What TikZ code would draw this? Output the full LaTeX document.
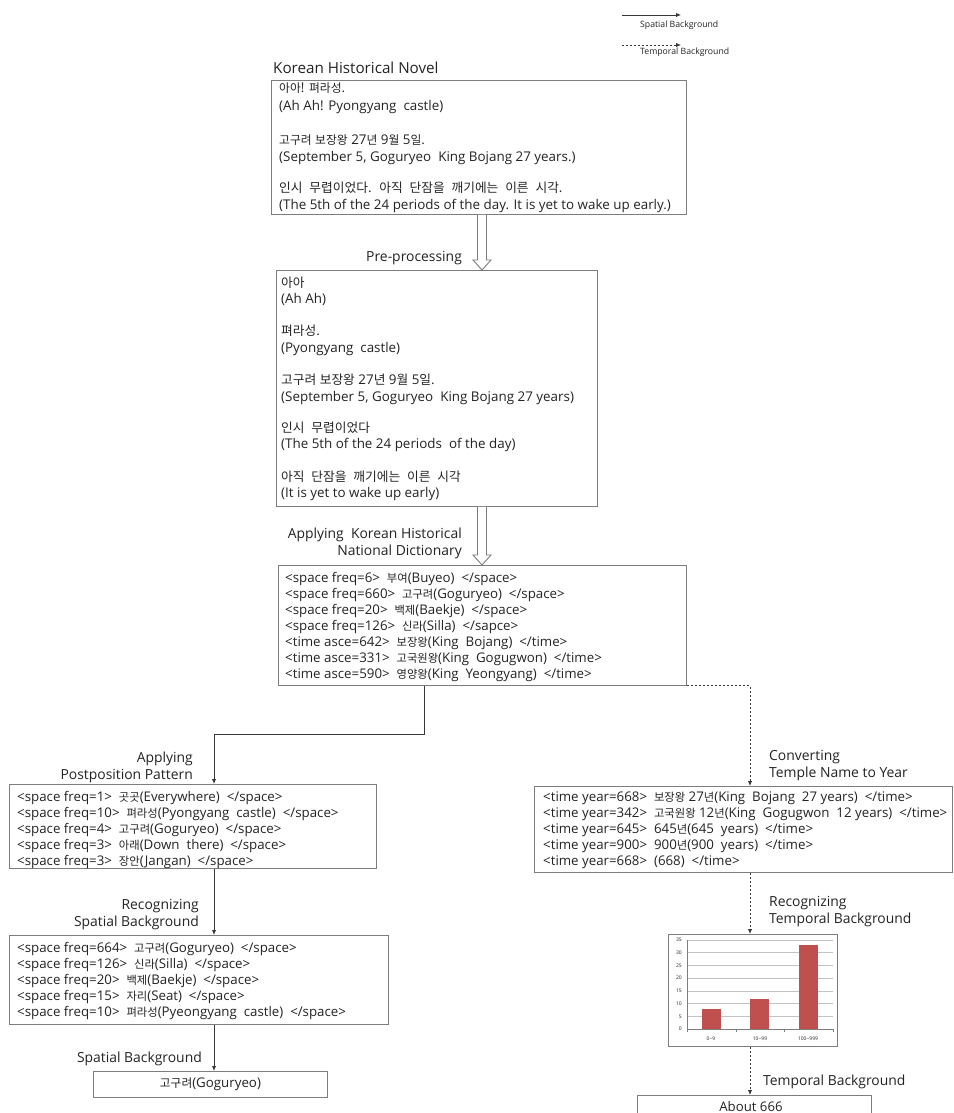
\documentclass[tikz,border=0pt]{standalone}
\usepackage{fontspec}
\setmainfont{Open Sans}
\newfontfamily\krfa[Scale=0.88,WordSpace=2]{Noto Sans CJK KR}
\newfontfamily\krfb[Scale=0.95,WordSpace=2.4]{Noto Sans CJK KR}
\newfontfamily\krfc[Scale=0.85]{Noto Sans CJK KR}
\newcommand\kra[1]{{\krfa #1}}
\newcommand\krb[1]{{\krfb #1}}
\newcommand\kr[1]{{\krfc #1}}
\usetikzlibrary{arrows.meta,calc}
\definecolor{boxc}{RGB}{125,125,125}
\definecolor{linec}{RGB}{55,55,55}
\definecolor{txt}{RGB}{35,35,35}
\definecolor{barc}{RGB}{192,80,77}
\definecolor{gridc}{RGB}{195,195,195}
\newcommand\bodyf{\fontsize{13.4}{15}\selectfont}
\newcommand\tagf{\fontsize{13.3}{15}\selectfont}
\newcommand\labf{\fontsize{13.9}{15}\selectfont}
\newcommand\bigf{\fontsize{15.2}{16}\selectfont}
\newcommand\legf{\fontsize{8.7}{10}\selectfont}
\newcommand\chf{\fontsize{5}{6}\selectfont}
\newcommand\hollowarrow[2]{\draw[hollow] ($(#1)+(-4.5,0)$) -- ($(#2)+(-4.5,-10)$) -- ($(#2)+(-9,-10)$) -- (#2) -- ($(#2)+(9,-10)$) -- ($(#2)+(4.5,-10)$) -- ($(#1)+(4.5,0)$);}
\begin{document}
\begin{tikzpicture}[x=1pt,y=-1pt,
  box/.style={draw=boxc,line width=0.9pt,anchor=north west,inner sep=0pt},
  tl/.style={anchor=base west,inner sep=0pt,font=\bodyf,text=txt},
  tg/.style={anchor=base west,inner sep=0pt,font=\tagf,text=txt},
  lab/.style={inner sep=0pt,font=\labf,text=txt},
  legt/.style={anchor=base west,inner sep=0pt,font=\legf,text=txt},
  sline/.style={draw=linec,line width=0.9pt,-{Latex[length=5pt,width=4.5pt]}},
  dline/.style={draw=linec,line width=0.9pt,dash pattern=on 2pt off 2pt,-{Latex[length=5pt,width=4.5pt]}},
  hollow/.style={draw=boxc,line width=0.9pt,fill=white},
  chl/.style={inner sep=0pt,font=\chf,text=txt}]
\useasboundingbox (0,0) rectangle (953,1113);

% legend
\coordinate (lga) at (622,15); \coordinate (lgb) at (681,15);
\coordinate (lgc) at (622,45); \coordinate (lgd) at (681,45);
\draw[sline] (lga) -- (lgb);
\draw[dline] (lgc) -- (lgd);
\node[legt] (leg1) at (640,28) {Spatial Background};
\node[legt] (leg2) at (640,55) {Temporal Background};

% boxes
\node[box,minimum width=415pt,minimum height=134pt] (novel) at (271,80) {};
\node[box,minimum width=321pt,minimum height=236pt] (prep) at (276,270) {};
\node[box,minimum width=408pt,minimum height=120pt] (dict) at (278,565) {};
\node[box,minimum width=367pt,minimum height=84pt] (post) at (9,784) {};
\node[box,minimum width=418pt,minimum height=86pt] (conv) at (534,786) {};
\node[box,minimum width=379pt,minimum height=89pt] (spat) at (9,935) {};
\node[box,minimum width=234pt,minimum height=26pt] (finL) at (93,1071) {};
\node[box,minimum width=169pt,minimum height=112pt] (chart) at (668,934) {};
\node[box,minimum width=234pt,minimum height=30pt] (finR) at (637,1095) {};

% labels
\node[lab,font=\bigf,anchor=base west] (lnovel) at (273,74) {Korean Historical Novel};
\node[lab,anchor=base west] (lpre) at (366,261) {Pre-processing};
\node[lab,anchor=base east] (lap1) at (462,538) {Applying~~Korean Historical};
\node[lab,anchor=base east] (lap2) at (462,555) {National Dictionary};
\node[lab,anchor=base east] (lpp1) at (193,762) {Applying};
\node[lab,anchor=base east] (lpp2) at (193,779) {Postposition Pattern};
\node[lab,anchor=base east] (lrs1) at (199,909) {Recognizing};
\node[lab,anchor=base east] (lrs2) at (199,926) {Spatial Background};
\node[lab,anchor=base east] (lsb) at (202,1062) {Spatial Background};
\node[lab,anchor=base west] (lcv1) at (769,760) {Converting};
\node[lab,anchor=base west] (lcv2) at (769,777) {Temple Name to Year};
\node[lab,anchor=base west] (lrt1) at (769,906) {Recognizing};
\node[lab,anchor=base west] (lrt2) at (769,923) {Temporal Background};
\node[lab,anchor=base west] (ltb) at (763,1085) {Temporal Background};

% novel text
\node[tl] (n1) at (279,93) {\kra{아아}! \kra{펴라성}.};
\node[tl] (n2) at (279,111) {(Ah Ah! Pyongyang~~castle)};
\node[tl] (n3) at (279,144) {\kra{고구려} \kra{보장왕} 27\kra{년} 9\kra{월} 5\kra{일}.};
\node[tl] (n4) at (279,161) {(September 5, Goguryeo~~King Bojang 27 years.)};
\node[tl] (n5) at (279,192) {\krb{인시 무렵이었다. 아직 단잠을 깨기에는 이른 시각.}};
\node[tl] (n6) at (279,209) {(The 5th of the 24 periods of the day. It is yet to wake up early.)};

% preprocessed text
\node[tl] (p1) at (281,287) {\krb{아아}};
\node[tl] (p2) at (281,303) {(Ah Ah)};
\node[tl] (p3) at (281,335) {\krb{펴라성}.};
\node[tl] (p4) at (281,352) {(Pyongyang~~castle)};
\node[tl] (p5) at (281,384) {\krb{고구려} \krb{보장왕} 27\krb{년} 9\krb{월} 5\krb{일}.};
\node[tl] (p6) at (281,401) {(September 5, Goguryeo~~King Bojang 27 years)};
\node[tl] (p7) at (281,432) {\krb{인시 무렵이었다}};
\node[tl] (p8) at (281,448) {(The 5th of the 24 periods~~of the day)};
\node[tl] (p9) at (281,481) {\krb{아직 단잠을 깨기에는 이른 시각}};
\node[tl] (p10) at (281,497) {(It is yet to wake up early)};

% dictionary
\foreach \s [count=\i] in {
  {<space freq=6>~~\kr{부여}(Buyeo)~~</space>},
  {<space freq=660>~~\kr{고구려}(Goguryeo)~~</space>},
  {<space freq=20>~~\kr{백제}(Baekje)~~</space>},
  {<space freq=126>~~\kr{신라}(Silla)~~</sapce>},
  {<time asce=642>~~\kr{보장왕}(King~~Bojang)~~</time>},
  {<time asce=331>~~\kr{고국원왕}(King~~Gogugwon)~~</time>},
  {<time asce=590>~~\kr{영양왕}(King~~Yeongyang)~~</time>}}
  \node[tg] (d\i) at (285,{566+16*\i}) {\s};

% postposition
\foreach \s [count=\i] in {
  {<space freq=1>~~\kr{곳곳}(Everywhere)~~</space>},
  {<space freq=10>~~\kr{펴라성}(Pyongyang~~castle)~~</space>},
  {<space freq=4>~~\kr{고구려}(Goguryeo)~~</space>},
  {<space freq=3>~~\kr{아래}(Down~~there)~~</space>},
  {<space freq=3>~~\kr{장안}(Jangan)~~</space>}}
  \node[tg] (q\i) at (17,{785+16*\i}) {\s};

% converting
\foreach \s [count=\i] in {
  {<time year=668>~~\kr{보장왕} 27\kr{년}(King~~Bojang~~27 years)~~</time>},
  {<time year=342>~~\kr{고국원왕} 12\kr{년}(King~~Gogugwon~~12 years)~~</time>},
  {<time year=645>~~645\kr{년}(645~~years)~~</time>},
  {<time year=900>~~900\kr{년}(900~~years)~~</time>},
  {<time year=668>~~(668)~~</time>}}
  \node[tg] (r\i) at (543,{785+16*\i}) {\s};

% spatial
\foreach \s [count=\i] in {
  {<space freq=664>~~\kr{고구려}(Goguryeo)~~</space>},
  {<space freq=126>~~\kr{신라}(Silla)~~</space>},
  {<space freq=20>~~\kr{백제}(Baekje)~~</space>},
  {<space freq=15>~~\kr{자리}(Seat)~~</space>},
  {<space freq=10>~~\kr{펴라성}(Pyeongyang~~castle)~~</space>}}
  \node[tg] (s\i) at (17,{936+16*\i}) {\s};

\node[inner sep=0pt,font=\tagf,text=txt] (fl) at (finL.center) {\kra{고구려}(Goguryeo)};
\node[inner sep=0pt,font=\fontsize{13.2}{15}\selectfont,text=txt] (fr) at (751,1107) {About 666};

% chart
\foreach \k [evaluate=\k as \v using int(5*\k)] in {0,...,7} {
  \draw[gridc,line width=0.6pt] (687,{1029-12.71*\k}) -- (833,{1029-12.71*\k});
  \node[chl,anchor=east] (yl\k) at (682,{1029-12.71*\k}) {\v};
}
\draw[boxc,line width=0.6pt] (687,940) -- (687,1029) -- (833,1029);
\foreach \x in {687,736,784,833} \draw[boxc,line width=0.6pt] (\x,1029) -- (\x,1032);
\fill[barc] (702,1029) rectangle (721,1008.7);
\fill[barc] (750,1029) rectangle (769,998.5);
\fill[barc] (799,1029) rectangle (818,945.1);
\node[chl] (cx1) at (711,1039) {0\textasciitilde9};
\node[chl] (cx2) at (760,1039) {10\textasciitilde99};
\node[chl] (cx3) at (808,1039) {100\textasciitilde999};

% connectors
\coordinate (hx) at (482,0);
\hollowarrow{novel.south -| hx}{prep.north -| hx}
\hollowarrow{prep.south -| hx}{dict.north -| hx}
\coordinate (b1) at (424,734);
\coordinate (b2) at (214,734);
\coordinate (xr) at (750,0);
\draw[sline] (dict.south -| b1) -- (b1) -- (b2) -- (post.north -| b2);
\draw[dline] (dict.south east) -| (conv.north -| xr);
\draw[sline] (post.south -| b2) -- (spat.north -| b2);
\draw[sline] (spat.south -| b2) -- (finL.north -| b2);
\draw[dline] (conv.south -| xr) -- (chart.north -| xr);
\draw[dline] (chart.south -| xr) -- (finR.north -| xr);
\end{tikzpicture}
\end{document}
